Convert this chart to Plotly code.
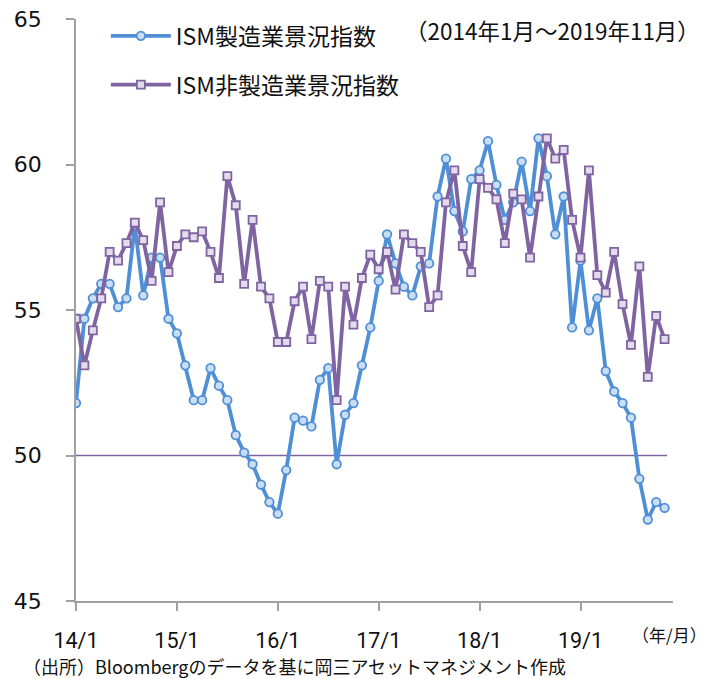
import plotly.graph_objects as go

# ---- data (monthly, 2014/1 - 2019/11) ----
start_year = 2014
manufacturing = [
    51.8, 54.7, 55.4, 55.9, 55.9, 55.1, 55.4, 57.9, 55.5, 56.8, 56.8, 54.7,  # 2014
    54.2, 53.1, 51.9, 51.9, 53.0, 52.4, 51.9, 50.7, 50.1, 49.7, 49.0, 48.4,  # 2015
    48.0, 49.5, 51.3, 51.2, 51.0, 52.6, 53.0, 49.7, 51.4, 51.8, 53.1, 54.4,  # 2016
    56.0, 57.6, 56.6, 55.8, 55.5, 56.5, 56.6, 58.9, 60.2, 58.4, 57.7, 59.5,  # 2017
    59.8, 60.8, 59.3, 58.1, 58.7, 60.1, 58.4, 60.9, 59.6, 57.6, 58.9, 54.4,  # 2018
    56.7, 54.3, 55.4, 52.9, 52.2, 51.8, 51.3, 49.2, 47.8, 48.4, 48.2,        # 2019
]
non_manufacturing = [
    54.7, 53.1, 54.3, 55.4, 57.0, 56.7, 57.3, 58.0, 57.4, 56.0, 58.7, 56.3,  # 2014
    57.2, 57.6, 57.5, 57.7, 57.0, 56.1, 59.6, 58.6, 55.9, 58.1, 55.8, 55.4,  # 2015
    53.9, 53.9, 55.3, 55.8, 54.0, 56.0, 55.8, 51.9, 55.8, 54.5, 56.1, 56.9,  # 2016
    56.4, 57.0, 55.7, 57.6, 57.3, 57.0, 55.1, 55.5, 58.7, 59.8, 57.2, 56.3,  # 2017
    59.5, 59.2, 58.8, 57.3, 59.0, 58.8, 56.8, 58.9, 60.9, 60.2, 60.5, 58.1,  # 2018
    56.8, 59.8, 56.2, 55.6, 57.0, 55.2, 53.8, 56.5, 52.7, 54.8, 54.0,        # 2019
]
month_labels = [f"{(start_year + i // 12) % 100}/{i % 12 + 1}" for i in range(len(manufacturing))]
x_idx = list(range(len(manufacturing)))
tick_vals = [i for i in x_idx if i % 12 == 0]
tick_text = [month_labels[i] for i in tick_vals]
y_ticks = [45, 50, 55, 60, 65]
threshold = 50

names = ["ISM製造業景況指数", "ISM非製造業景況指数"]
period_note = "（2014年1月～2019年11月）"
source_note = "（出所）Bloombergのデータを基に岡三アセットマネジメント作成"
unit_note = "（年/月）"

BLUE = "#4F8FD6"
PURPLE = "#8064A2"
JP = "Noto Sans CJK JP"

fig = go.Figure()
fig.add_trace(go.Scatter(
    x=x_idx, y=manufacturing, name=names[0], mode="lines+markers",
    customdata=month_labels,
    line=dict(color=BLUE, width=3.8),
    marker=dict(symbol="circle", size=8.5, color="#C9DDF3", line=dict(color=BLUE, width=1.8)),
    legendgroup="a",
))
fig.add_trace(go.Scatter(
    x=x_idx, y=non_manufacturing, name=names[1], mode="lines+markers",
    customdata=month_labels,
    line=dict(color=PURPLE, width=3.8),
    marker=dict(symbol="square", size=8, color="#E3DCEC", line=dict(color=PURPLE, width=1.8)),
    legendgroup="b",
))

fig.add_shape(type="line", xref="x", yref="y", x0=x_idx[0], x1=x_idx[-1] + 0.3,
              y0=threshold, y1=threshold, line=dict(color=PURPLE, width=1.5), layer="below")

fig.update_layout(
    width=712, height=679,
    margin=dict(l=68, r=47, t=11, b=86, autoexpand=False),
    paper_bgcolor="white", plot_bgcolor="white",
    showlegend=True,
    legend=dict(x=0.05, y=1.008, xanchor="left", yanchor="top",
                font=dict(family=JP, size=23, color="#111"),
                itemwidth=60, tracegroupgap=16, traceorder="grouped",
                bgcolor="rgba(0,0,0,0)"),
    xaxis=dict(range=[0, 71], tickvals=tick_vals, ticktext=tick_text,
               showgrid=False, zeroline=False, automargin=False,
               showline=True, linecolor="#A0A0A0", linewidth=1.5,
               ticks="outside", ticklen=8, tickwidth=1.5, tickcolor="#A0A0A0",
               ticklabelstandoff=11, ticklabeloverflow="allow",
               tickfont=dict(family="Roboto", size=21.5, color="#111")),
    yaxis=dict(range=[45, 65], tickvals=y_ticks,
               showgrid=False, zeroline=False, automargin=False,
               showline=True, linecolor="#A0A0A0", linewidth=1.5,
               ticks="outside", ticklen=8, tickwidth=1.5, tickcolor="#A0A0A0",
               ticklabelstandoff=20, ticklabeloverflow="allow",
               tickfont=dict(family="DejaVu Sans", size=22, color="#111")),
    annotations=[
        dict(text=period_note, xref="paper", yref="paper", x=1.0486, y=0.981,
             xanchor="right", yanchor="middle", showarrow=False,
             font=dict(family=JP, size=22.5, color="#111")),
        dict(text=unit_note, xref="paper", yref="paper", x=1.060, y=-0.058,
             xanchor="right", yanchor="middle", showarrow=False,
             font=dict(family=JP, size=17, color="#111")),
        dict(text=source_note, xref="paper", yref="paper", x=-0.092, y=-0.1117,
             xanchor="left", yanchor="middle", showarrow=False,
             font=dict(family=JP, size=18, color="#111")),
    ],
)

fig.write_html("out.html")
